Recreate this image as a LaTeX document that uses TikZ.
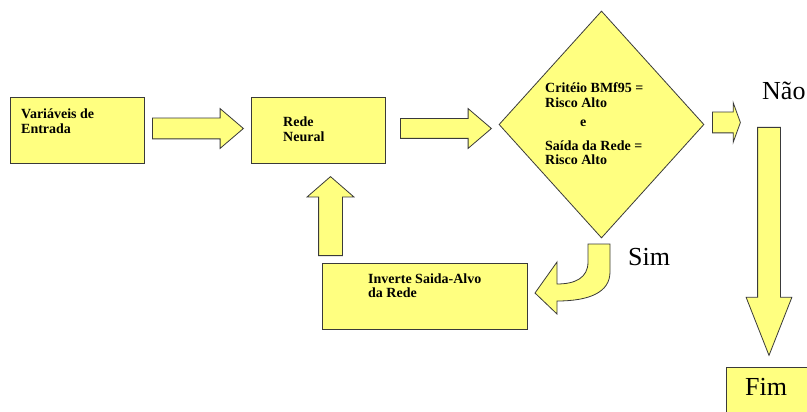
\documentclass[tikz,border=0pt]{standalone}
\usepackage{fontspec}
\setmainfont{Liberation Serif}
\usetikzlibrary{shapes.geometric,shapes.arrows,calc}
\definecolor{flowYellow}{HTML}{FFFF80}
\definecolor{flowEdge}{HTML}{3A3A3A}
\newcommand{\twoline}[2]{\begin{tabular}[t]{@{}l@{}}#1\\#2\end{tabular}}

\begin{document}
\begin{tikzpicture}[x=1pt,y=-1pt,
  box/.style={draw=flowEdge,fill=flowYellow,line width=0.8pt,inner sep=0pt,anchor=north west},
  blk/.style={single arrow,draw=flowEdge,fill=flowYellow,line width=0.8pt,inner xsep=0pt,anchor=tail},
  lbl/.style={font=\fontsize{14}{14.5}\selectfont\bfseries,inner sep=0pt,anchor=base west},
  big/.style={font=\fontsize{26}{30}\selectfont,inner sep=0pt,anchor=base west}
]
\clip (0,0) rectangle (807,412);
\fill[white] (0,0) rectangle (807,412);

% boxes
\node[box, minimum width=134, minimum height=66] (vars) at (10,97) {};
\node[box, minimum width=134, minimum height=66] (rede) at (251,97) {};
\node[box, minimum width=205, minimum height=66] (inv) at (322,263) {};
\node[box, minimum width=84, minimum height=60] (fim) at (726,367) {};
\node[diamond, draw=flowEdge, fill=flowYellow, line width=0.8pt, inner sep=0pt,
      minimum width=205, minimum height=227] (crit) at (601.5,124.5) {};

% texts
\node[lbl] (varsTxt) at (21,119) {\twoline{Variáveis de}{Entrada}};
\node[lbl] (redeTxt) at (283,127) {\twoline{Rede}{Neural}};
\node[lbl] (critTxt) at (545,93) {\twoline{Critéio BMf95 =}{Risco Alto}};
\node[lbl] (eTxt) at (580,127) {e};
\node[lbl] (saidaTxt) at (545,150) {\twoline{Saída da Rede =}{Risco Alto}};
\node[lbl] (invTxt) at (368,283) {\twoline{Inverte Saida-Alvo}{da Rede}};
\node[big] (nao) at (762,100) {Não};
\node[big] (sim) at (628,265) {Sim};
\node[big] (fimTxt) at (745,395) {Fim};

% block arrows
\node[blk, minimum height=91, inner ysep=10, single arrow head extend=9.5,
      single arrow tip angle=81] (a1) at (152,128.5) {};
\node[blk, minimum height=91, inner ysep=9.5, single arrow head extend=10,
      single arrow tip angle=81] (a2) at (400,128.5) {};
\node[blk, minimum height=28, inner ysep=10, single arrow head extend=9.5,
      single arrow tip angle=140] (aNao) at (712,122.5) {};
\node[blk, rotate=90, minimum height=79, inner ysep=11.5, single arrow head extend=11.5,
      single arrow tip angle=98] (aBack) at (330.5,256) {};
\node[blk, rotate=-90, minimum height=228, inner ysep=11, single arrow head extend=11.5,
      single arrow tip angle=43] (aFim) at (769,127) {};

% curved arrow to Inverte
\draw[draw=flowEdge, fill=flowYellow, line width=0.8pt]
  (588,244) -- (610,244) -- (610,272) .. controls (610,292) and (590,301) .. (557,301)
  -- (557,314) -- (535,293) -- (557,262) -- (557,284)
  .. controls (575,284) and (588,278) .. (588,262) -- cycle;
\end{tikzpicture}
\end{document}
